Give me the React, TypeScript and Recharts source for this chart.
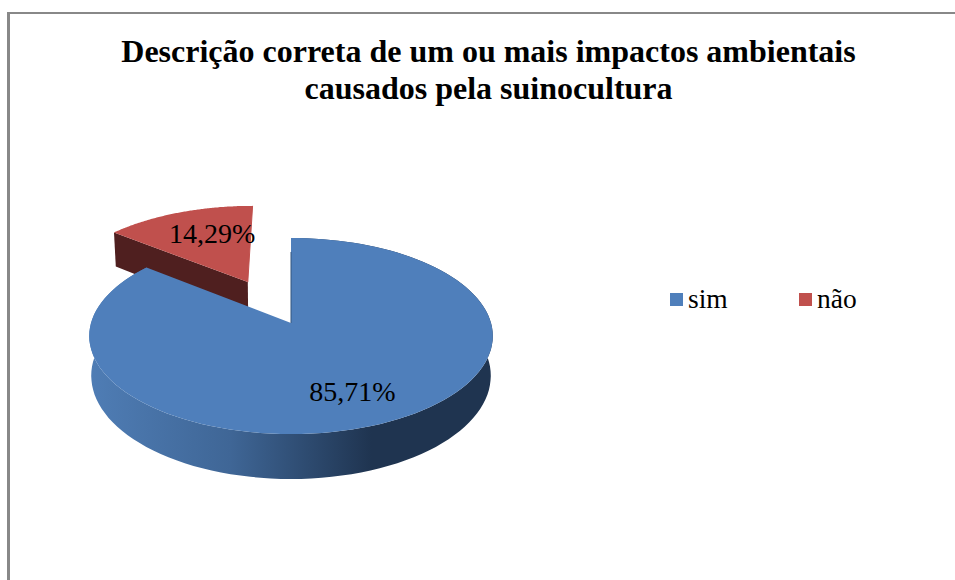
import { PieChart, Pie, Legend } from 'recharts';

// Values
const categories = ['sim', 'não'];
const shares = [85.71, 14.29];
const sliceColors = ['#4f7fbb', '#c0504d'];
const titleLines = [
  'Descrição correta de um ou mais impactos ambientais',
  'causados pela suinocultura',
];

const pieData = categories.map((name, i) => ({ name, value: shares[i], fill: sliceColors[i] }));

const FONT = '"Liberation Serif", serif';

// Fake 3D: disc laid back with a bit of perspective
const PERSPECTIVE = 0.1327;
const TILT = 0.4815;
const DEPTH = 39;
const EXPLODE = 0.5;
const EXPLODED_SLICE = 'não';

const rad = (deg: number) => (deg * Math.PI) / 180;

function project(cx: number, cy: number, r: number, u: number, v: number) {
  const w = 1 + PERSPECTIVE * v;
  return { x: cx + (r * u) / w, y: cy - (r * TILT * v) / w, w };
}

function lower(cx: number, p: { x: number; y: number; w: number }) {
  return { x: cx + (p.x - cx) * 0.99, y: p.y + DEPTH / p.w, w: p.w };
}

function toPath(points: { x: number; y: number }[]) {
  return 'M' + points.map((p) => `${p.x.toFixed(1)},${p.y.toFixed(1)}`).join('L') + 'Z';
}

function SliceShape(props: any) {
  const { cx, cy, outerRadius, startAngle, endAngle, name, fill } = props;
  const exploded = name === EXPLODED_SLICE;
  const mid = rad((startAngle + endAngle) / 2);
  const e = exploded ? EXPLODE : 0;
  const u0 = e * Math.cos(mid) - (exploded ? 0.012 : 0);
  const v0 = e * Math.sin(mid);

  const apex = project(cx, cy, outerRadius, u0, v0);
  const arc = [];
  for (let i = 0; i <= 120; i++) {
    const a = rad(startAngle + ((endAngle - startAngle) * i) / 120);
    arc.push(project(cx, cy, outerRadius, u0 + Math.cos(a), v0 + Math.sin(a)));
  }
  const top = toPath([apex, ...arc]);

  if (exploded) {
    const corner = arc[arc.length - 1];
    const first = arc[0];
    // the cut face that looks towards the viewer
    const cut = toPath([first, apex, lower(cx, apex), lower(cx, first)]);
    return (
      <g>
        <path d={cut} fill="#4f1f1f" />
        <path d={top} fill={fill} />
        <path d={`M${corner.x},${corner.y}L${apex.x},${apex.y}`} stroke="#c0504d" strokeWidth={1} />
      </g>
    );
  }

  const wall = toPath([...arc, ...arc.map((p) => lower(cx, p)).reverse()]);
  return (
    <g>
      <defs>
        <linearGradient id="wallShade" x1="0" y1="0" x2="1" y2="0">
          <stop offset="0" stopColor="#4f7db5" />
          <stop offset="0.35" stopColor="#3f6696" />
          <stop offset="0.7" stopColor="#1f3450" />
          <stop offset="1" stopColor="#1f3450" />
        </linearGradient>
      </defs>
      <path d={wall} fill="url(#wallShade)" />
      <path d={top} fill={fill} />
      <path d={`M${apex.x},${apex.y}L${arc[0].x},${arc[0].y + 14}`} stroke="#35567f" strokeWidth={1} />
    </g>
  );
}

const visibleOnly = (name: string) => (props: any) =>
  props.name === name ? <SliceShape {...props} /> : <g />;

function sliceLabel(name: string, radial: number, nudgeX: number, nudgeY: number) {
  return (props: any) => {
    if (props.name !== name) return <g />;
    const mid = rad(props.midAngle);
    const e = name === EXPLODED_SLICE ? EXPLODE : 0;
    const u = (e + radial) * Math.cos(mid);
    const v = (e + radial) * Math.sin(mid);
    const p = project(props.cx, props.cy, props.outerRadius, u, v);
    return (
      <text
        x={p.x + nudgeX}
        y={p.y + nudgeY}
        textAnchor="middle"
        dominantBaseline="central"
        fontFamily={FONT}
        fontSize={28}
        fill="#000"
      >
        {props.value.toFixed(2).replace('.', ',')}%
      </text>
    );
  };
}

function renderLegend() {
  return (
    <div style={{ display: 'flex', fontFamily: FONT, fontSize: 27.5, lineHeight: '30px', color: '#000' }}>
      {categories.map((name, i) => (
        <div key={name} style={{ display: 'flex', alignItems: 'center', width: 129 }}>
          <span style={{ width: 13, height: 13, background: sliceColors[i], marginRight: 5, marginTop: 1 }} />
          <span>{name}</span>
        </div>
      ))}
    </div>
  );
}

export default function App() {
  return (
    <div
      style={{
        position: 'absolute',
        left: 0,
        top: 0,
        width: 955,
        height: 580,
        background: '#fff',
        overflow: 'hidden',
      }}
    >
      {/* chart frame runs off the right and bottom of the picture */}
      <div
        style={{
          position: 'absolute',
          left: 7,
          top: 12,
          width: 960,
          height: 580,
          borderLeft: '3px solid #888',
          borderTop: '2px solid #888',
        }}
      />
      <div
        style={{
          position: 'absolute',
          left: 20,
          top: 33,
          width: 937,
          textAlign: 'center',
          fontFamily: FONT,
          fontWeight: 'bold',
          fontSize: 32,
          lineHeight: '37px',
          color: '#000',
        }}
      >
        {titleLines.map((line) => (
          <div key={line}>{line}</div>
        ))}
      </div>
      <div style={{ position: 'absolute', left: 0, top: 0 }}>
        <PieChart width={955} height={580} margin={{ top: 0, right: 0, bottom: 0, left: 0 }}>
          <Pie
            data={pieData}
            dataKey="value"
            nameKey="name"
            cx={291}
            cy={323}
            outerRadius={200}
            startAngle={90}
            endAngle={-270}
            stroke="none"
            shape={visibleOnly('não')}
            label={sliceLabel('não', 0.68, 11, 0)}
            labelLine={false}
            legendType="none"
            isAnimationActive={false}
          />
          <Pie
            data={pieData}
            dataKey="value"
            nameKey="name"
            cx={291}
            cy={323}
            outerRadius={200}
            startAngle={90}
            endAngle={-270}
            stroke="none"
            shape={visibleOnly('sim')}
            label={sliceLabel('sim', 0.72, -7, 0)}
            labelLine={false}
            isAnimationActive={false}
          />
          <Legend
            content={renderLegend}
            wrapperStyle={{ position: 'absolute', left: 670, top: 284, width: 270, height: 30 }}
          />
        </PieChart>
      </div>
    </div>
  );
}
